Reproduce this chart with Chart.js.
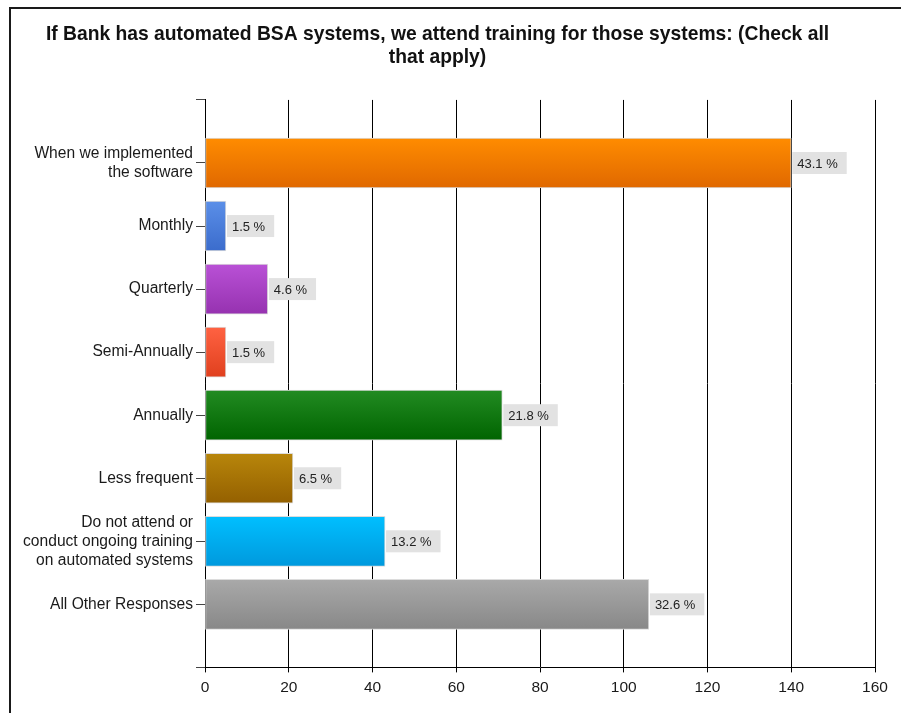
<!DOCTYPE html>
<html>
<head>
<meta charset="utf-8">
<title>BSA training chart</title>
<script src="https://cdn.jsdelivr.net/npm/chart.js@4.4.1/dist/chart.umd.min.js"></script>
<style>
  html, body { margin: 0; padding: 0; background: #fff; }
  .frame {
    position: absolute; left: 9px; top: 7px; width: 1000px; height: 1000px;
    border-left: 2px solid #1a1a1a; border-top: 2px solid #1a1a1a;
  }
  #chart { position: absolute; left: 0; top: 0; }
</style>
</head>
<body>
<div class="frame"></div>
<canvas id="chart" width="901" height="713"></canvas>
<script>
const categories = [
  ["When we implemented", "the software"],
  "Monthly",
  "Quarterly",
  "Semi-Annually",
  "Annually",
  "Less frequent",
  ["Do not attend or", "conduct ongoing training", "on automated systems"],
  "All Other Responses"
];
const responseCounts = [140, 5, 15, 5, 71, 21, 43, 106];
const responsePercents = [43.1, 1.5, 4.6, 1.5, 21.8, 6.5, 13.2, 32.6];
const barTopColors = ["#ff8c00", "#5b8fe8", "#b951d6", "#ff6242", "#228b22", "#b8860b", "#00bfff", "#a9a9a9"];
const barBottomColors = ["#e06800", "#3b6ccc", "#9632b0", "#e0401e", "#006400", "#946000", "#0099dd", "#888888"];

const FONT = '"Liberation Sans", Arial, sans-serif';
Chart.defaults.font.family = FONT;

// empty slots above and below so the bars sit a full slot away from the ends
const axisLabels = ["", ...categories, ""];
const axisValues = [null, ...responseCounts, null];

function barGradient(ctx) {
  const i = ctx.dataIndex - 1;
  if (i < 0 || i >= categories.length) return "transparent";
  const chart = ctx.chart;
  const yScale = chart.scales.y;
  if (!chart.chartArea || !yScale) return barTopColors[i];
  const yc = yScale.getPixelForValue(ctx.dataIndex);
  const g = chart.ctx.createLinearGradient(0, yc - 25, 0, yc + 25);
  g.addColorStop(0, barTopColors[i]);
  g.addColorStop(1, barBottomColors[i]);
  return g;
}

// grey boxes with the percentage at the end of each bar
const valueBoxes = {
  id: "valueBoxes",
  afterDatasetsDraw(chart) {
    const ctx = chart.ctx;
    const meta = chart.getDatasetMeta(0);
    ctx.save();
    ctx.font = "13px " + FONT;
    ctx.textBaseline = "middle";
    meta.data.forEach((bar, idx) => {
      const i = idx - 1;
      if (i < 0 || i >= categories.length) return;
      const text = responsePercents[i].toFixed(1) + " %";
      const w = ctx.measureText(text).width + 14;
      const x = bar.x + 1;
      const y = bar.y;
      ctx.fillStyle = "#e2e2e2";
      ctx.fillRect(x, y - 11, w, 22);
      ctx.fillStyle = "#222";
      ctx.fillText(text, x + 5, y + 1);
    });
    ctx.restore();
  }
};

new Chart(document.getElementById("chart"), {
  type: "bar",
  data: {
    labels: axisLabels,
    datasets: [{
      data: axisValues,
      backgroundColor: barGradient,
      borderColor: "#dcdcdc",
      borderWidth: 1,
      borderSkipped: false,
      barThickness: 50
    }]
  },
  options: {
    indexAxis: "y",
    responsive: false,
    animation: false,
    layout: { padding: { left: 0, right: 26, top: 0, bottom: 10 } },
    plugins: {
      legend: { display: false },
      tooltip: { enabled: false },
      title: {
        display: true,
        text: [
          "If Bank has automated BSA systems, we attend training for those systems: (Check all",
          "that apply)"
        ],
        color: "#111",
        font: { size: 19.3, weight: "bold", lineHeight: 1.19 },
        padding: { top: 23, bottom: 31 }
      }
    },
    scales: {
      x: {
        type: "linear",
        min: 0,
        max: 160,
        ticks: { stepSize: 20, color: "#1a1a1a", font: { size: 15.5 }, padding: 6 },
        grid: { color: "#000", lineWidth: 1, tickLength: 5, tickColor: "#000" },
        border: { color: "#000", width: 1 }
      },
      y: {
        type: "category",
        offset: false,
        ticks: { autoSkip: false, color: "#1a1a1a", font: { size: 15.6, lineHeight: 1.22 }, padding: 3 },
        grid: { offset: false, drawOnChartArea: false, tickLength: 9, tickColor: "#444" },
        border: { color: "#000", width: 1 },
        afterFit(scale) { scale.width = 205; }
      }
    }
  },
  plugins: [valueBoxes]
});
</script>
</body>
</html>
